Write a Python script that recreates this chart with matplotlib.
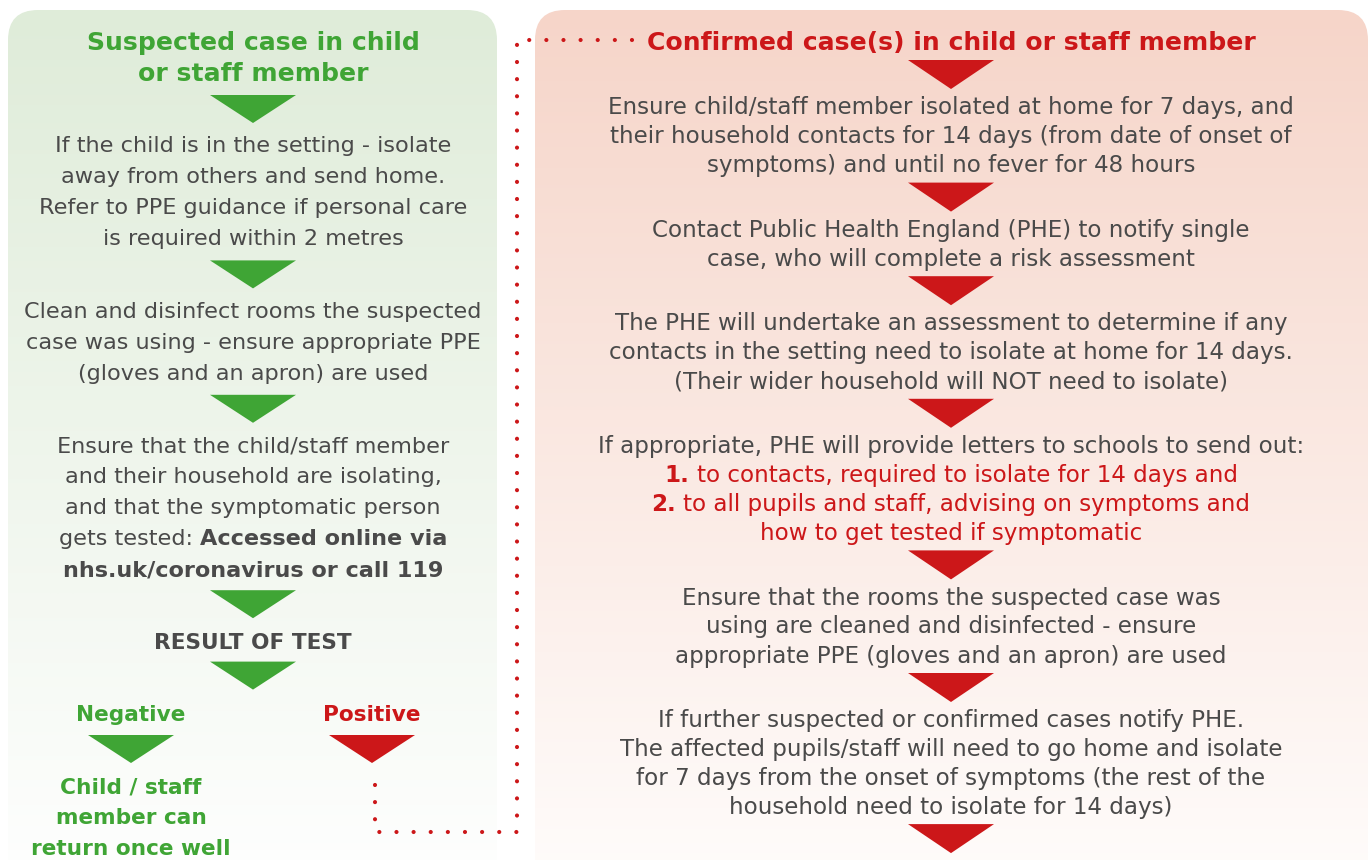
import numpy as np
import matplotlib
matplotlib.use("Agg")
import matplotlib.pyplot as plt
from matplotlib.patches import FancyBboxPatch, Polygon
from matplotlib.colors import LinearSegmentedColormap

# ---------------- content ----------------
left_title = ["Suspected case in child", "or staff member"]
left_steps = [
    ["If the child is in the setting - isolate",
     "away from others and send home.",
     "Refer to PPE guidance if personal care",
     "is required within 2 metres"],
    ["Clean and disinfect rooms the suspected",
     "case was using - ensure appropriate PPE",
     "(gloves and an apron) are used"],
    ["Ensure that the child/staff member",
     "and their household are isolating,",
     "and that the symptomatic person",
     "gets tested: **Accessed online via**",
     "**nhs.uk/coronavirus or call 119**"],
]
result_label = "RESULT OF TEST"
outcome_labels = ["Negative", "Positive"]
negative_text = ["Child / staff", "member can", "return once well"]

right_title = "Confirmed case(s) in child or staff member"
right_steps = [
    ["Ensure child/staff member isolated at home for 7 days, and",
     "their household contacts for 14 days (from date of onset of",
     "symptoms) and until no fever for 48 hours"],
    ["Contact Public Health England (PHE) to notify single",
     "case, who will complete a risk assessment"],
    ["The PHE will undertake an assessment to determine if any",
     "contacts in the setting need to isolate at home for 14 days.",
     "(Their wider household will NOT need to isolate)"],
    ["If appropriate, PHE will provide letters to schools to send out:",
     "!**1.** to contacts, required to isolate for 14 days and",
     "!**2.** to all pupils and staff, advising on symptoms and",
     "!how to get tested if symptomatic"],
    ["Ensure that the rooms the suspected case was",
     "using are cleaned and disinfected - ensure",
     "appropriate PPE (gloves and an apron) are used"],
    ["If further suspected or confirmed cases notify PHE.",
     "The affected pupils/staff will need to go home and isolate",
     "for 7 days from the onset of symptoms (the rest of the",
     "household need to isolate for 14 days)"],
]

# ---------------- style ----------------
GREEN = "#3fa535"
RED = "#cc1719"
GRAY = "#4a4a4a"
FONT = ["DejaVu Sans"]
TEXT_DY = 2

fig = plt.figure(figsize=(13.7, 8.6), dpi=100)
ax = fig.add_axes([0, 0, 1, 1])
ax.set_xlim(0, 1370)
ax.set_ylim(860, 0)
ax.axis("off")
renderer = fig.canvas.get_renderer()


def width_of(s, size, bold):
    t = ax.text(0, 0, s, fontsize=size, family=FONT,
                fontweight="bold" if bold else "normal")
    w = t.get_window_extent(renderer).width
    t.remove()
    return w


def fit(pairs, bold):
    r = [tw / width_of(s, 10, bold) for s, tw in pairs]
    return 10 * float(np.mean(r))


LEFT_TITLE = fit([("Suspected case in child", 333)], True)
RIGHT_TITLE = fit([("Confirmed case(s) in child or staff member", 608)], True)
LEFT_BODY = fit([("If the child is in the setting - isolate", 397),
                 ("Clean and disinfect rooms the suspected", 456)], False)
RIGHT_BODY = fit([("Ensure child/staff member isolated at home for 7 days, and", 674),
                  ("contacts in the setting need to isolate at home for 14 days.", 697)], False)
LABEL = fit([("RESULT OF TEST", 205), ("Negative", 107), ("return once well", 197)], True)


def panel(x0, x1, y0, y1, top, bottom):
    box = FancyBboxPatch((x0, y0), x1 - x0, y1 - y0,
                         boxstyle="round,pad=0,rounding_size=30",
                         fc="none", ec="none", transform=ax.transData)
    ax.add_patch(box)
    cmap = LinearSegmentedColormap.from_list("g", [top, bottom])
    grad = np.linspace(0, 1, 256).reshape(-1, 1)
    im = ax.imshow(grad, cmap=cmap, extent=(x0, x1, y1, y0), aspect="auto",
                   zorder=0, interpolation="bilinear")
    im.set_clip_path(box)


panel(8, 497, 10, 900, "#dfecd9", "#ffffff")
panel(535, 1368, 10, 900, "#f6d5c9", "#fffdfc")
ax.set_xlim(0, 1370)
ax.set_ylim(860, 0)


def arrow(xc, ytop, color, w=86, h=28):
    ax.add_patch(Polygon([(xc - w / 2, ytop), (xc + w / 2, ytop), (xc, ytop + h)],
                         closed=True, fc=color, ec="none", zorder=3))


def parse(line):
    parts = line.split("**")
    return [(p, i % 2 == 1) for i, p in enumerate(parts) if p != ""]


def space_w(size):
    return width_of("x x", size, False) - width_of("xx", size, False)


def line(xc, y, text, color, size, bold=False):
    items = []
    for t, b in parse(text):
        bb = bold or b
        tx = ax.text(0, y + TEXT_DY, t.strip(), fontsize=size, family=FONT, color=color,
                     fontweight="bold" if bb else "normal", ha="left", va="center",
                     zorder=4)
        w = tx.get_window_extent(renderer).width
        items.append([tx, w, t[:1] == " ", t[-1:] == " "])
    total, gaps = 0, []
    for i, it in enumerate(items):
        g = space_w(size) if i > 0 and (it[2] or items[i - 1][3]) else 0
        gaps.append(g)
        total += g + it[1]
    x = xc - total / 2
    for it, g in zip(items, gaps):
        x += g
        it[0].set_x(x)
        x += it[1]


# ---------------- left column ----------------
LX = 253
LS = 31
LG = 72.4
y = 41
for t in left_title:
    line(LX, y, t, GREEN, LEFT_TITLE, bold=True)
    y += LS
y -= LS
for block in left_steps:
    arrow(LX, y + 23, GREEN)
    y += LG
    for t in block:
        line(LX, y, t, GRAY, LEFT_BODY)
        y += LS
    y -= LS
arrow(LX, y + 22, GREEN)
y += LG
line(LX, y, result_label, GRAY, LABEL, bold=True)
arrow(LX, y + 21, GREEN)
y += LG
NX, PX = 131, 372
line(NX, y, outcome_labels[0], GREEN, LABEL, bold=True)
line(PX, y, outcome_labels[1], RED, LABEL, bold=True)
arrow(NX, y + 22, GREEN)
arrow(PX, y + 22, RED)
y += 73
for t in negative_text:
    line(NX, y, t, GREEN, LABEL, bold=True)
    y += 30.5

# ---------------- right column ----------------
RX = 951
RS = 29.0
RG = 64.6
y = 41
line(RX, y, right_title, RED, RIGHT_TITLE, bold=True)
for block in right_steps:
    arrow(RX, y + 19, RED, h=29)
    y += RG
    for t in block:
        if t.startswith("!"):
            line(RX, y, t[1:], RED, RIGHT_BODY)
        else:
            line(RX, y, t, GRAY, RIGHT_BODY)
        y += RS
    y -= RS
arrow(RX, y + 18.5, RED, h=29)

# ---------------- dotted connector ----------------
px = [632, 517, 517, 375, 375]
py = [40, 40, 832, 832, 775]
ax.plot(px, py, color=RED, lw=3, linestyle=(0, (0.01, 4.1)),
        dash_capstyle="round", solid_capstyle="round", zorder=2)

fig.savefig("out.png", dpi=100, facecolor="white")
